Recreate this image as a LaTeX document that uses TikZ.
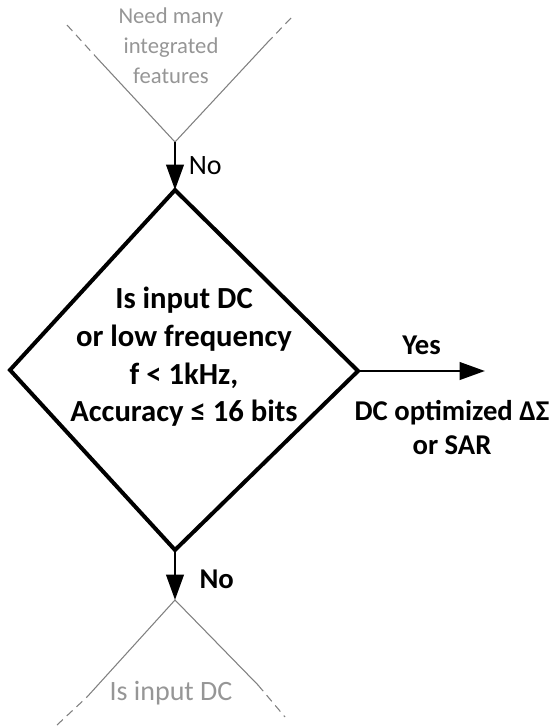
\documentclass[tikz,border=0pt]{standalone}
\usepackage{fontspec}
\setmainfont{Carlito}
\usetikzlibrary{arrows.meta}
\definecolor{faded}{RGB}{150,150,150}
\definecolor{fadedline}{RGB}{128,128,128}
\tikzset{
  arr/.style={line width=2.2pt,-{Triangle[length=19pt,width=13pt]}},
  box/.style={line width=3pt,line join=miter},
  ghost/.style={fadedline,line width=0.8pt},
  ghostdash/.style={fadedline,line width=0.8pt,dash pattern=on 6pt off 4pt},
  ghosttext/.style={faded,font=\fontsize{17}{22.5}\selectfont,align=center},
  lbl/.style={font=\fontsize{21.5}{25.5}\selectfont\bfseries,align=center},
}
\begin{document}
\begin{tikzpicture}[x=0.75pt,y=-0.75pt]
\useasboundingbox (0,0) rectangle (549,726);

% decision corners
\coordinate (dtop) at (175,190);
\coordinate (dright) at (358,371);
\coordinate (dbot) at (175,550);
\coordinate (dleft) at (10,370);
\coordinate (vtop) at (175,142);
\coordinate (vbot) at (175,600);
\coordinate (yesend) at (485,371);

% faded neighbours
\coordinate (tl) at (67,25);
\coordinate (tlm) at (97,58);
\coordinate (tr) at (292,17);
\coordinate (trm) at (267,43);
\coordinate (bl) at (57,725);
\coordinate (blm) at (87,697);
\coordinate (br) at (285,717);
\coordinate (brm) at (258,685);
\draw[ghostdash] (tl) -- (tlm);
\draw[ghost] (tlm) -- (vtop) -- (trm);
\draw[ghostdash] (trm) -- (tr);
\draw[ghostdash] (bl) -- (blm);
\draw[ghost] (blm) -- (vbot) -- (brm);
\draw[ghostdash] (brm) -- (br);
\node[ghosttext] (need) at (171,46) {Need many\\integrated\\features};
\node[ghosttext,font=\fontsize{21}{25}\selectfont] (isdc) at (171,693) {Is input DC};

% decision
\draw[box] (dtop) -- (dright) -- (dbot) -- (dleft) -- cycle;
\node[lbl,font=\fontsize{23}{28.3}\selectfont\bfseries] (ask) at (184,357)
  {Is input DC\\or low frequency\\f < 1kHz,\\Accuracy ≤ 16 bits};
\node[lbl] (result) at (452,428) {DC optimized ΔΣ\\or SAR};

\path[draw,arr] (vtop) -- node[right,font=\fontsize{21}{26}\selectfont,xshift=6pt] {No} (dtop);
\path[draw,arr] (dright) -- node[lbl,above,yshift=8pt] {Yes} (yesend);
\path[draw,arr] (dbot) -- node[lbl,right,xshift=14pt,yshift=-3pt] {No} (vbot);
\end{tikzpicture}
\end{document}
